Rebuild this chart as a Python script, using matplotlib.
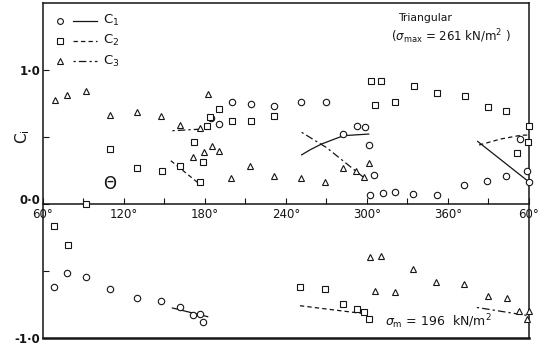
import matplotlib
matplotlib.use("Agg")
import matplotlib.pyplot as plt
from matplotlib.transforms import ScaledTranslation

plt.rcParams['font.family'] = ['DejaVu Sans']

# ---------------- data (theta in degrees, coefficient C) ----------------
c1_theta = [184.5, 190.2, 199.9, 213.8, 231.2, 251.0, 269.4, 282.6, 292.5, 298.3,
            301.3, 305.0, 302.5, 311.9, 321.1, 334.3, 352.2, 372.1, 388.9, 403.1,
            413.1, 418.7, 420.0,
            68.2, 77.7, 91.8, 109.4, 129.8, 147.7, 161.4, 170.8, 176.3, 178.3]
c1_value = [0.64, 0.594, 0.763, 0.743, 0.728, 0.763, 0.763, 0.52, 0.579, 0.572,
            0.44, 0.216, 0.07, 0.082, 0.087, 0.075, 0.069, 0.142, 0.174, 0.206,
            0.485, 0.25, 0.161,
            -0.622, -0.515, -0.548, -0.634, -0.701, -0.722, -0.772, -0.828, -0.821, -0.878]

c2_theta = [91.8, 109.9, 129.8, 147.9, 161.6, 171.6, 176.5, 178.3, 181.5, 184.0,
            190.6, 199.9, 213.8, 231.2, 303.0, 310.4, 306.2, 321.1, 334.8, 352.2,
            372.5, 390.0, 403.1, 411.1, 419.2, 420.0,
            68.2, 78.4, 250.3, 268.9, 282.6, 292.5, 297.5, 301.3]
c2_value = [0.0, 0.41, 0.266, 0.249, 0.286, 0.465, 0.161, 0.31, 0.58, 0.65,
            0.709, 0.622, 0.616, 0.654, 0.92, 0.92, 0.739, 0.758, 0.878, 0.828,
            0.803, 0.721, 0.696, 0.384, 0.46, 0.584,
            -0.162, -0.306, -0.622, -0.634, -0.746, -0.784, -0.809, -0.858]

c3_theta = [68.9, 77.7, 91.8, 109.4, 129.8, 147.7, 161.6, 176.5, 182.0, 170.8,
            179.0, 185.0, 190.6, 199.4, 213.0, 231.2, 251.0, 268.9, 282.1, 292.0,
            297.5, 301.3,
            302.5, 310.4, 334.3, 351.4, 372.1, 305.7, 321.1, 389.4, 403.6, 412.5,
            420.0, 418.5]
c3_value = [0.778, 0.811, 0.846, 0.664, 0.684, 0.659, 0.59, 0.567, 0.821, 0.353,
            0.39, 0.435, 0.398, 0.191, 0.286, 0.206, 0.191, 0.161, 0.268, 0.248,
            0.199, 0.303,
            -0.398, -0.386, -0.485, -0.58, -0.597, -0.647, -0.654, -0.69, -0.704, -0.796,
            -0.796, -0.86]

# trend lines (C1 solid, C2 dashed, C3 dash-dot)
c1_lines = [([251.6, 258.0, 266.4, 282.6, 301.3], [0.367, 0.405, 0.448, 0.51, 0.522]),
            ([382.0, 420.0], [0.467, 0.165]),
            ([155.9, 182.0], [-0.776, -0.841])]
c2_lines = [([154.7, 174.5], [0.323, 0.161]),
            ([383.0, 399.0, 414.0, 420.0], [0.44, 0.485, 0.513, 0.515]),
            ([250.3, 300.0], [-0.759, -0.821])]
c3_lines = [([155.9, 175.8], [0.547, 0.558]),
            ([251.6, 270.2, 297.5], [0.535, 0.42, 0.199]),
            ([381.4, 420.0], [-0.772, -0.834])]

x_ticks = [60, 120, 180, 240, 300, 360, 420]
x_tick_labels = ['60°', '120°', '180°', '240°', '300°', '360°', '60°']
y_ticks = [-1.0, -0.5, 0.0, 0.5, 1.0]
y_tick_labels = ['-1·0', '', '0·0', '', '1·0']

# ---------------- figure ----------------
ink = '#151515'
fig = plt.figure(figsize=(5.49, 3.49), dpi=100)
ax = fig.add_axes([0.0783, 0.0315, 0.8852, 0.9599])
ax.set_xlim(60, 420)
ax.set_ylim(-1.0, 1.5)

mk = dict(mfc='white', mec=ink, ms=4.6, mew=0.8, ls='none', clip_on=False, zorder=3)
ax.plot(c1_theta, c1_value, marker='o', **mk)
ax.plot(c2_theta, c2_value, marker='s', **{**mk, 'ms': 4.2})
ax.plot(c3_theta, c3_value, marker='^', **{**mk, 'ms': 5.0})

lw = 0.9
for xs, ys in c1_lines:
    ax.plot(xs, ys, color=ink, lw=lw, ls='-', zorder=2)
for xs, ys in c2_lines:
    ax.plot(xs, ys, color=ink, lw=lw, ls=(0, (3.5, 2.5)), zorder=2)
for xs, ys in c3_lines:
    ax.plot(xs, ys, color=ink, lw=lw, ls=(0, (1.8, 2.5, 6, 2.5)), zorder=2)

# spines: x axis on the zero line, frame kept by extra line at bottom
for s in ['left', 'right', 'top']:
    ax.spines[s].set_linewidth(1.1)
    ax.spines[s].set_color(ink)
ax.spines['bottom'].set_position(('data', 0))
ax.spines['bottom'].set_linewidth(1.1)
ax.spines['bottom'].set_color(ink)
ax.axhline(-1.0, color=ink, lw=1.8, clip_on=False, zorder=1)

ax.set_xticks(x_ticks)
ax.set_xticks(range(60, 421, 30), minor=True)
ax.set_xticklabels(x_tick_labels, fontsize=8.5, color=ink)
ax.tick_params(axis='x', which='both', direction='in', length=4, width=0.8,
               color=ink, pad=3)
ax.set_yticks(y_ticks)
ax.set_yticklabels(y_tick_labels, fontsize=8.5, color=ink, fontweight='bold')
ax.tick_params(axis='y', direction='in', length=4, width=0.8, color=ink, pad=2)

# lift the "0·0" label slightly above the zero line, as in the reference
zero_lbl = ax.get_yticklabels()[2]
zero_lbl.set_transform(zero_lbl.get_transform() +
                       ScaledTranslation(0, 3.5 / 72, fig.dpi_scale_trans))

# legend drawn manually
leg_items = [('o', '-', 'C$_1$', 4.2), ('s', (0, (3.5, 2.5)), 'C$_2$', 4.0),
             ('^', (0, (1.8, 2.5, 6, 2.5)), 'C$_3$', 4.6)]
for i, (m, style, lab, ms) in enumerate(leg_items):
    yy = 0.947 - i * 0.06
    ax.plot([0.035], [yy], marker=m, mfc='white', mec=ink, ms=ms, mew=0.8,
            transform=ax.transAxes, clip_on=False)
    ax.plot([0.062, 0.111], [yy, yy], color=ink, lw=lw, ls=style,
            transform=ax.transAxes)
    ax.text(0.123, yy, lab, transform=ax.transAxes, fontsize=9.5,
            va='center', ha='left', color=ink)

ax.text(0.730, 0.955, 'Triangular', transform=ax.transAxes, fontsize=7.8,
        va='center', ha='left', color=ink)
ax.text(0.717, 0.900, r'($\sigma_{\rm max}$ = 261 kN/m$^2$ )', transform=ax.transAxes,
        fontsize=8.5, va='center', ha='left', color=ink)
ax.text(0.704, 0.048, r'$\sigma_{\rm m}$ = 196  kN/m$^2$', transform=ax.transAxes,
        fontsize=9, va='center', ha='left', color=ink)
ax.text(109.4, 0.15, 'Θ', fontsize=12, va='center', ha='center', color=ink)
fig.text(23 / 549, 1 - 137 / 349, r'C$_{\rm i}$', rotation=90, fontsize=11,
         va='center', ha='center', color=ink)

fig.savefig('out.png', dpi=100)
